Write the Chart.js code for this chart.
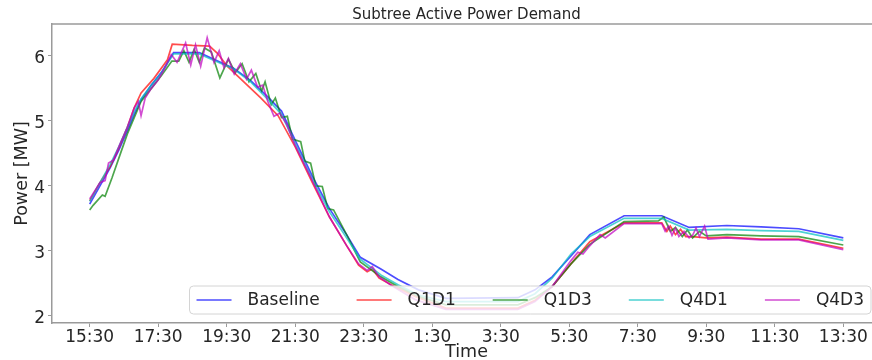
<!DOCTYPE html>
<html>
<head>
<meta charset="utf-8">
<script src="https://cdn.jsdelivr.net/npm/chart.js@4.4.1/dist/chart.umd.min.js"></script>
<style>
  html, body { margin: 0; padding: 0; background: #fff; overflow: hidden; }
  #wrap { position: relative; width: 881px; height: 360px; }
</style>
</head>
<body>
<div id="wrap"><canvas id="powerChart"></canvas></div>
<script>
// hours after 15:30, tick positions and their clock labels
const xTickHours = [0, 2, 4, 6, 8, 10, 12, 14, 16, 18, 20, 22];
const xTickLabels = ["15:30", "17:30", "19:30", "21:30", "23:30", "1:30", "3:30", "5:30", "7:30", "9:30", "11:30", "13:30"];
const yTicks = [2, 3, 4, 5, 6];

// Baseline + Q4D1 share sample times
const smoothT = [0, 0.3, 0.6, 0.85, 1.1, 1.3, 1.5, 1.8, 2.1, 2.45, 3.2, 3.45, 4.2, 4.7, 5.2, 5.6, 6.0, 6.5, 7.0, 7.5,
  7.9, 8.5, 9.0, 9.6, 10.4, 12.5, 13.0, 13.5, 14.05, 14.6, 15.6, 16.7, 17.5, 18.6, 19.6, 20.7, 22.0];
const baselineP = [3.72, 4.0, 4.28, 4.55, 4.85, 5.1, 5.32, 5.55, 5.75, 6.05, 6.05, 5.99, 5.81, 5.62, 5.37, 5.15, 4.7, 4.15, 3.65, 3.25,
  2.9, 2.72, 2.56, 2.4, 2.27, 2.28, 2.4, 2.6, 2.92, 3.25, 3.54, 3.54, 3.36, 3.39, 3.37, 3.34, 3.2];
const q4d1P = [3.76, 4.05, 4.33, 4.6, 4.9, 5.14, 5.34, 5.55, 5.74, 6.03, 6.03, 5.97, 5.8, 5.6, 5.33, 5.1, 4.65, 4.1, 3.6, 3.2,
  2.87, 2.63, 2.48, 2.32, 2.22, 2.22, 2.34, 2.58, 2.95, 3.22, 3.5, 3.5, 3.32, 3.33, 3.31, 3.3, 3.16];

const q1d1T = [0, 0.3, 0.6, 0.85, 1.1, 1.3, 1.5, 1.87, 2.27, 2.41, 3.0, 3.5, 3.73, 4.0, 4.5, 5.0, 5.5, 6.0, 6.5, 7.0,
  7.5, 7.85, 8.1, 8.25, 8.45, 8.8, 9.5, 10.4, 12.5, 13.0, 13.5, 14.05, 14.6, 15.6, 16.7, 16.85, 16.95, 17.1, 17.25, 17.4,
  17.6, 18.0, 18.6, 19.6, 20.7, 22.0];
const q1d1P = [3.77, 4.05, 4.3, 4.58, 4.9, 5.2, 5.43, 5.65, 5.94, 6.18, 6.16, 6.15, 6.04, 5.85, 5.6, 5.35, 5.08, 4.6, 4.05, 3.52,
  3.08, 2.78, 2.68, 2.72, 2.58, 2.48, 2.3, 2.12, 2.12, 2.24, 2.45, 2.8, 3.14, 3.43, 3.43, 3.3, 3.38, 3.25, 3.33, 3.22,
  3.22, 3.2, 3.21, 3.18, 3.18, 3.04];

const q1d3T = [0, 0.1, 0.37, 0.45, 0.65, 0.9, 1.1, 1.3, 1.5, 1.8, 2.1, 2.4, 2.6, 2.75, 2.9, 3.05, 3.2, 3.35, 3.55, 3.8,
  4.05, 4.25, 4.45, 4.65, 4.85, 5.02, 5.12, 5.3, 5.42, 5.6, 5.77, 5.92, 6.16, 6.28, 6.45, 6.6, 6.79, 6.95, 7.12, 7.5,
  7.9, 8.5, 9.0, 9.6, 10.4, 12.5, 13.0, 13.5, 14.05, 14.6, 15.6, 16.6, 16.76, 16.95, 17.1, 17.3, 17.45, 17.6, 17.8, 18.0,
  18.6, 19.6, 20.7, 22.0];
const q1d3P = [3.63, 3.7, 3.86, 3.84, 4.12, 4.5, 4.8, 5.05, 5.3, 5.5, 5.7, 5.92, 5.92, 6.08, 5.9, 6.1, 5.9, 6.12, 6.06, 5.66,
  5.95, 5.74, 5.88, 5.6, 5.73, 5.46, 5.6, 5.25, 5.35, 5.05, 5.07, 4.72, 4.68, 4.38, 4.35, 4.0, 3.99, 3.65, 3.63, 3.25,
  2.83, 2.6, 2.45, 2.3, 2.17, 2.17, 2.28, 2.45, 2.8, 3.1, 3.45, 3.46, 3.52, 3.3, 3.36, 3.22, 3.32, 3.2, 3.3, 3.23,
  3.25, 3.23, 3.22, 3.09];

const q4d3T = [0, 0.3, 0.45, 0.55, 0.7, 0.85, 1.1, 1.3, 1.42, 1.5, 1.62, 1.8, 2.0, 2.2, 2.38, 2.55, 2.8, 2.95, 3.09, 3.24,
  3.43, 3.63, 3.78, 3.92, 4.05, 4.22, 4.4, 4.58, 4.72, 4.9, 5.05, 5.2, 5.38, 5.55, 5.75, 6.0, 6.5, 7.0, 7.5, 7.85,
  8.1, 8.25, 8.45, 8.8, 9.5, 10.4, 12.5, 13.0, 13.5, 14.05, 14.25, 14.4, 14.55, 14.9, 15.05, 15.6, 16.7, 16.8, 16.9, 17.0,
  17.1, 17.2, 17.35, 17.5, 17.6, 17.7, 17.8, 17.95, 18.05, 18.6, 19.6, 20.7, 22.0];
const q4d3P = [3.8, 4.05, 4.08, 4.35, 4.4, 4.6, 4.9, 5.2, 5.3, 5.08, 5.35, 5.5, 5.63, 5.82, 6.02, 5.9, 6.2, 5.86, 6.17, 5.84,
  6.28, 5.9, 6.08, 5.82, 5.96, 5.72, 5.88, 5.64, 5.78, 5.52, 5.55, 5.3, 5.07, 5.12, 4.95, 4.62, 4.08, 3.52, 3.08, 2.8,
  2.7, 2.76, 2.6, 2.47, 2.25, 2.1, 2.1, 2.22, 2.45, 2.85, 2.98, 2.95, 3.05, 3.25, 3.2, 3.42, 3.42, 3.3, 3.38, 3.24,
  3.35, 3.22, 3.3, 3.2, 3.24, 3.35, 3.22, 3.38, 3.18, 3.2, 3.17, 3.17, 3.02];

const FONT = "'DejaVu Sans', sans-serif";
const TEXT = "#262626";
const SPINE = "#9a9a9a";

const pts = (t, p) => t.map((h, i) => ({ x: h, y: p[i] }));

const series = [
  { label: "Baseline", data: pts(smoothT, baselineP), color: "rgba(0, 0, 255, 0.7)" },
  { label: "Q1D1", data: pts(q1d1T, q1d1P), color: "rgba(255, 0, 0, 0.7)" },
  { label: "Q1D3", data: pts(q1d3T, q1d3P), color: "rgba(0, 128, 0, 0.7)" },
  { label: "Q4D1", data: pts(smoothT, q4d1P), color: "rgba(0, 191, 191, 0.7)" },
  { label: "Q4D3", data: pts(q4d3T, q4d3P), color: "rgba(191, 0, 191, 0.7)" },
];

// titles + top spine (right spine is cropped off in the original)
const frameText = {
  id: "frameText",
  afterDraw(chart) {
    const { ctx, chartArea: a } = chart;
    ctx.save();
    ctx.strokeStyle = SPINE;
    ctx.lineWidth = 1.5;
    ctx.beginPath();
    ctx.moveTo(a.left, a.top);
    ctx.lineTo(a.right, a.top);
    ctx.stroke();

    const cx = (a.left + a.right) / 2;
    ctx.fillStyle = TEXT;
    ctx.textAlign = "center";
    ctx.textBaseline = "middle";
    ctx.font = "15px " + FONT;
    ctx.fillText("Subtree Active Power Demand", cx, 15);
    ctx.font = "17.5px " + FONT;
    ctx.fillText("Time", cx, 352);
    ctx.translate(22, (a.top + a.bottom) / 2);
    ctx.rotate(-Math.PI / 2);
    ctx.fillText("Power [MW]", 0, 0);
    ctx.restore();
  },
};

// matplotlib-style legend inside the axes, lower right, one row
const innerLegend = {
  id: "innerLegend",
  afterDatasetsDraw(chart) {
    const { ctx, chartArea: a } = chart;
    const sets = chart.data.datasets;
    const handle = 35, gap = 16, colGap = 37, padX = 7;
    ctx.save();
    ctx.font = "17px " + FONT;
    const widths = sets.map((d) => ctx.measureText(d.label).width);
    let total = padX * 2 + colGap * (sets.length - 1);
    widths.forEach((w) => (total += handle + gap + w));
    const right = a.right - 10;
    const left = right - total;
    const top = a.bottom - 37;
    const h = 28;

    ctx.beginPath();
    ctx.roundRect(left, top, total, h, 4);
    ctx.fillStyle = "rgba(255, 255, 255, 0.8)";
    ctx.fill();
    ctx.strokeStyle = "#d4d4d4";
    ctx.lineWidth = 1;
    ctx.stroke();

    let x = left + padX;
    const cy = top + h / 2;
    sets.forEach((d, i) => {
      ctx.strokeStyle = d.borderColor;
      ctx.lineWidth = 1.5;
      ctx.beginPath();
      ctx.moveTo(x, cy);
      ctx.lineTo(x + handle, cy);
      ctx.stroke();
      ctx.fillStyle = TEXT;
      ctx.textAlign = "left";
      ctx.textBaseline = "middle";
      ctx.fillText(d.label, x + handle + gap, cy + 1);
      x += handle + gap + widths[i] + colGap;
    });
    ctx.restore();
  },
};

new Chart(document.getElementById("powerChart"), {
  type: "line",
  data: {
    datasets: series.map((s, i) => ({
      label: s.label,
      data: s.data,
      borderColor: s.color,
      backgroundColor: s.color,
      borderWidth: 1.7,
      pointRadius: 0,
      tension: 0,
      order: series.length - i, // later series on top, like matplotlib
    })),
  },
  options: {
    responsive: true,
    maintainAspectRatio: false,
    animation: false,
    layout: { padding: { top: 24, left: 0, right: 0, bottom: 0 } },
    plugins: { legend: { display: false }, tooltip: { enabled: false } },
    scales: {
      x: {
        type: "linear",
        min: -1.1,
        max: 23.1,
        afterBuildTicks: (s) => { s.ticks = xTickHours.map((v) => ({ value: v })); },
        afterFit: (s) => { s.height = 37; s.paddingLeft = 0; s.paddingRight = 0; },
        ticks: {
          autoSkip: false,
          maxRotation: 0,
          padding: 0,
          color: TEXT,
          font: { family: FONT, size: 17 },
          callback: (v) => xTickLabels[xTickHours.indexOf(v)],
        },
        grid: { drawOnChartArea: false, drawTicks: true, tickLength: 4, color: SPINE },
        border: { color: SPINE, width: 1.5 },
      },
      y: {
        min: 1.89,
        max: 6.49,
        afterBuildTicks: (s) => { s.ticks = yTicks.map((v) => ({ value: v })); },
        afterFit: (s) => { s.width = 52; s.paddingTop = 0; s.paddingBottom = 0; },
        ticks: { padding: 3, labelOffset: 3, color: TEXT, font: { family: FONT, size: 17 } },
        grid: { drawOnChartArea: false, drawTicks: true, tickLength: 4, color: SPINE },
        border: { color: SPINE, width: 1.5 },
      },
    },
  },
  plugins: [innerLegend, frameText],
});
</script>
</body>
</html>
